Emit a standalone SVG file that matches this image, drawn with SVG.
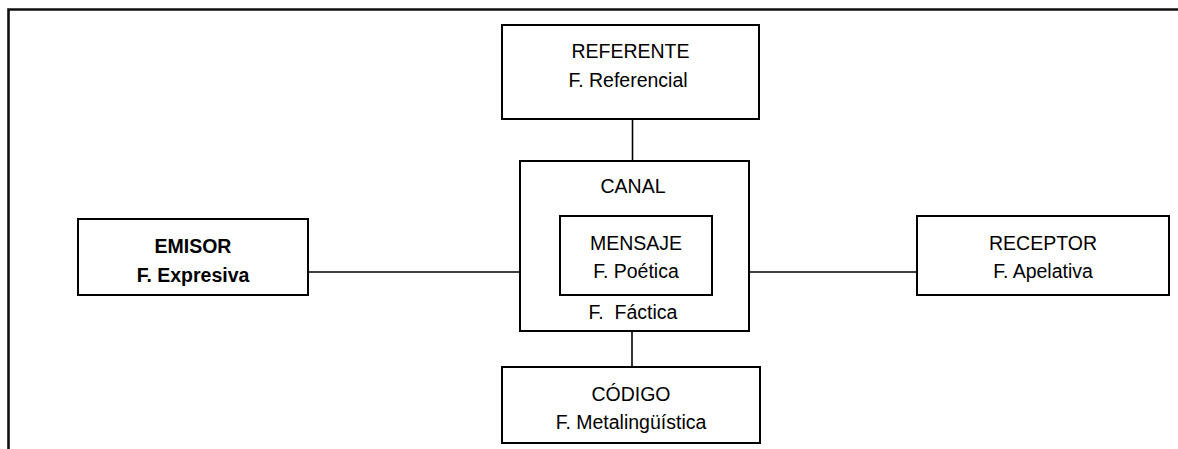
<svg xmlns="http://www.w3.org/2000/svg" width="1178" height="449" viewBox="0 0 1178 449">
<style>
.box{fill:#fff;stroke:#000;stroke-width:2}
.ln{stroke:#000;stroke-width:1.6;fill:none}
.fr{stroke:#111;stroke-width:2.6;fill:none}
text{font-family:"Liberation Sans",Arial,sans-serif;font-size:19.5px;fill:#000;text-anchor:middle}
.b{font-weight:bold}
</style>
<rect width="1178" height="449" fill="#fff"/>
<g id="frame">
<path class="fr" d="M8.5,449 V9.5 H1178"/>
</g>
<g id="connectors">
<line class="ln" x1="632.5" y1="119" x2="632.5" y2="161"/>
<line class="ln" x1="308" y1="272" x2="520" y2="272"/>
<line class="ln" x1="749" y1="272" x2="917" y2="272"/>
<line class="ln" x1="632" y1="331" x2="632" y2="367"/>
</g>
<g id="referente">
<rect class="box" x="502" y="25" width="257" height="94"/>
<text x="630.5" y="58">REFERENTE</text>
<text x="628" y="87">F. Referencial</text>
</g>
<g id="canal">
<rect class="box" x="520" y="161" width="229" height="170"/>
<text x="633" y="193">CANAL</text>
<text x="633" y="319" xml:space="preserve">F.  Fáctica</text>
</g>
<g id="mensaje">
<rect class="box" x="560" y="216" width="152" height="79"/>
<text x="636" y="250">MENSAJE</text>
<text x="636" y="278">F. Poética</text>
</g>
<g id="emisor">
<rect class="box" x="78" y="219" width="230" height="76"/>
<text class="b" x="193" y="253">EMISOR</text>
<text class="b" x="193" y="282">F. Expresiva</text>
</g>
<g id="receptor">
<rect class="box" x="917" y="216" width="252" height="79"/>
<text x="1043" y="250">RECEPTOR</text>
<text x="1043" y="278">F. Apelativa</text>
</g>
<g id="codigo">
<rect class="box" x="502" y="367" width="258" height="76"/>
<text x="631" y="401">CÓDIGO</text>
<text x="631" y="429">F. Metalingüística</text>
</g>
</svg>
